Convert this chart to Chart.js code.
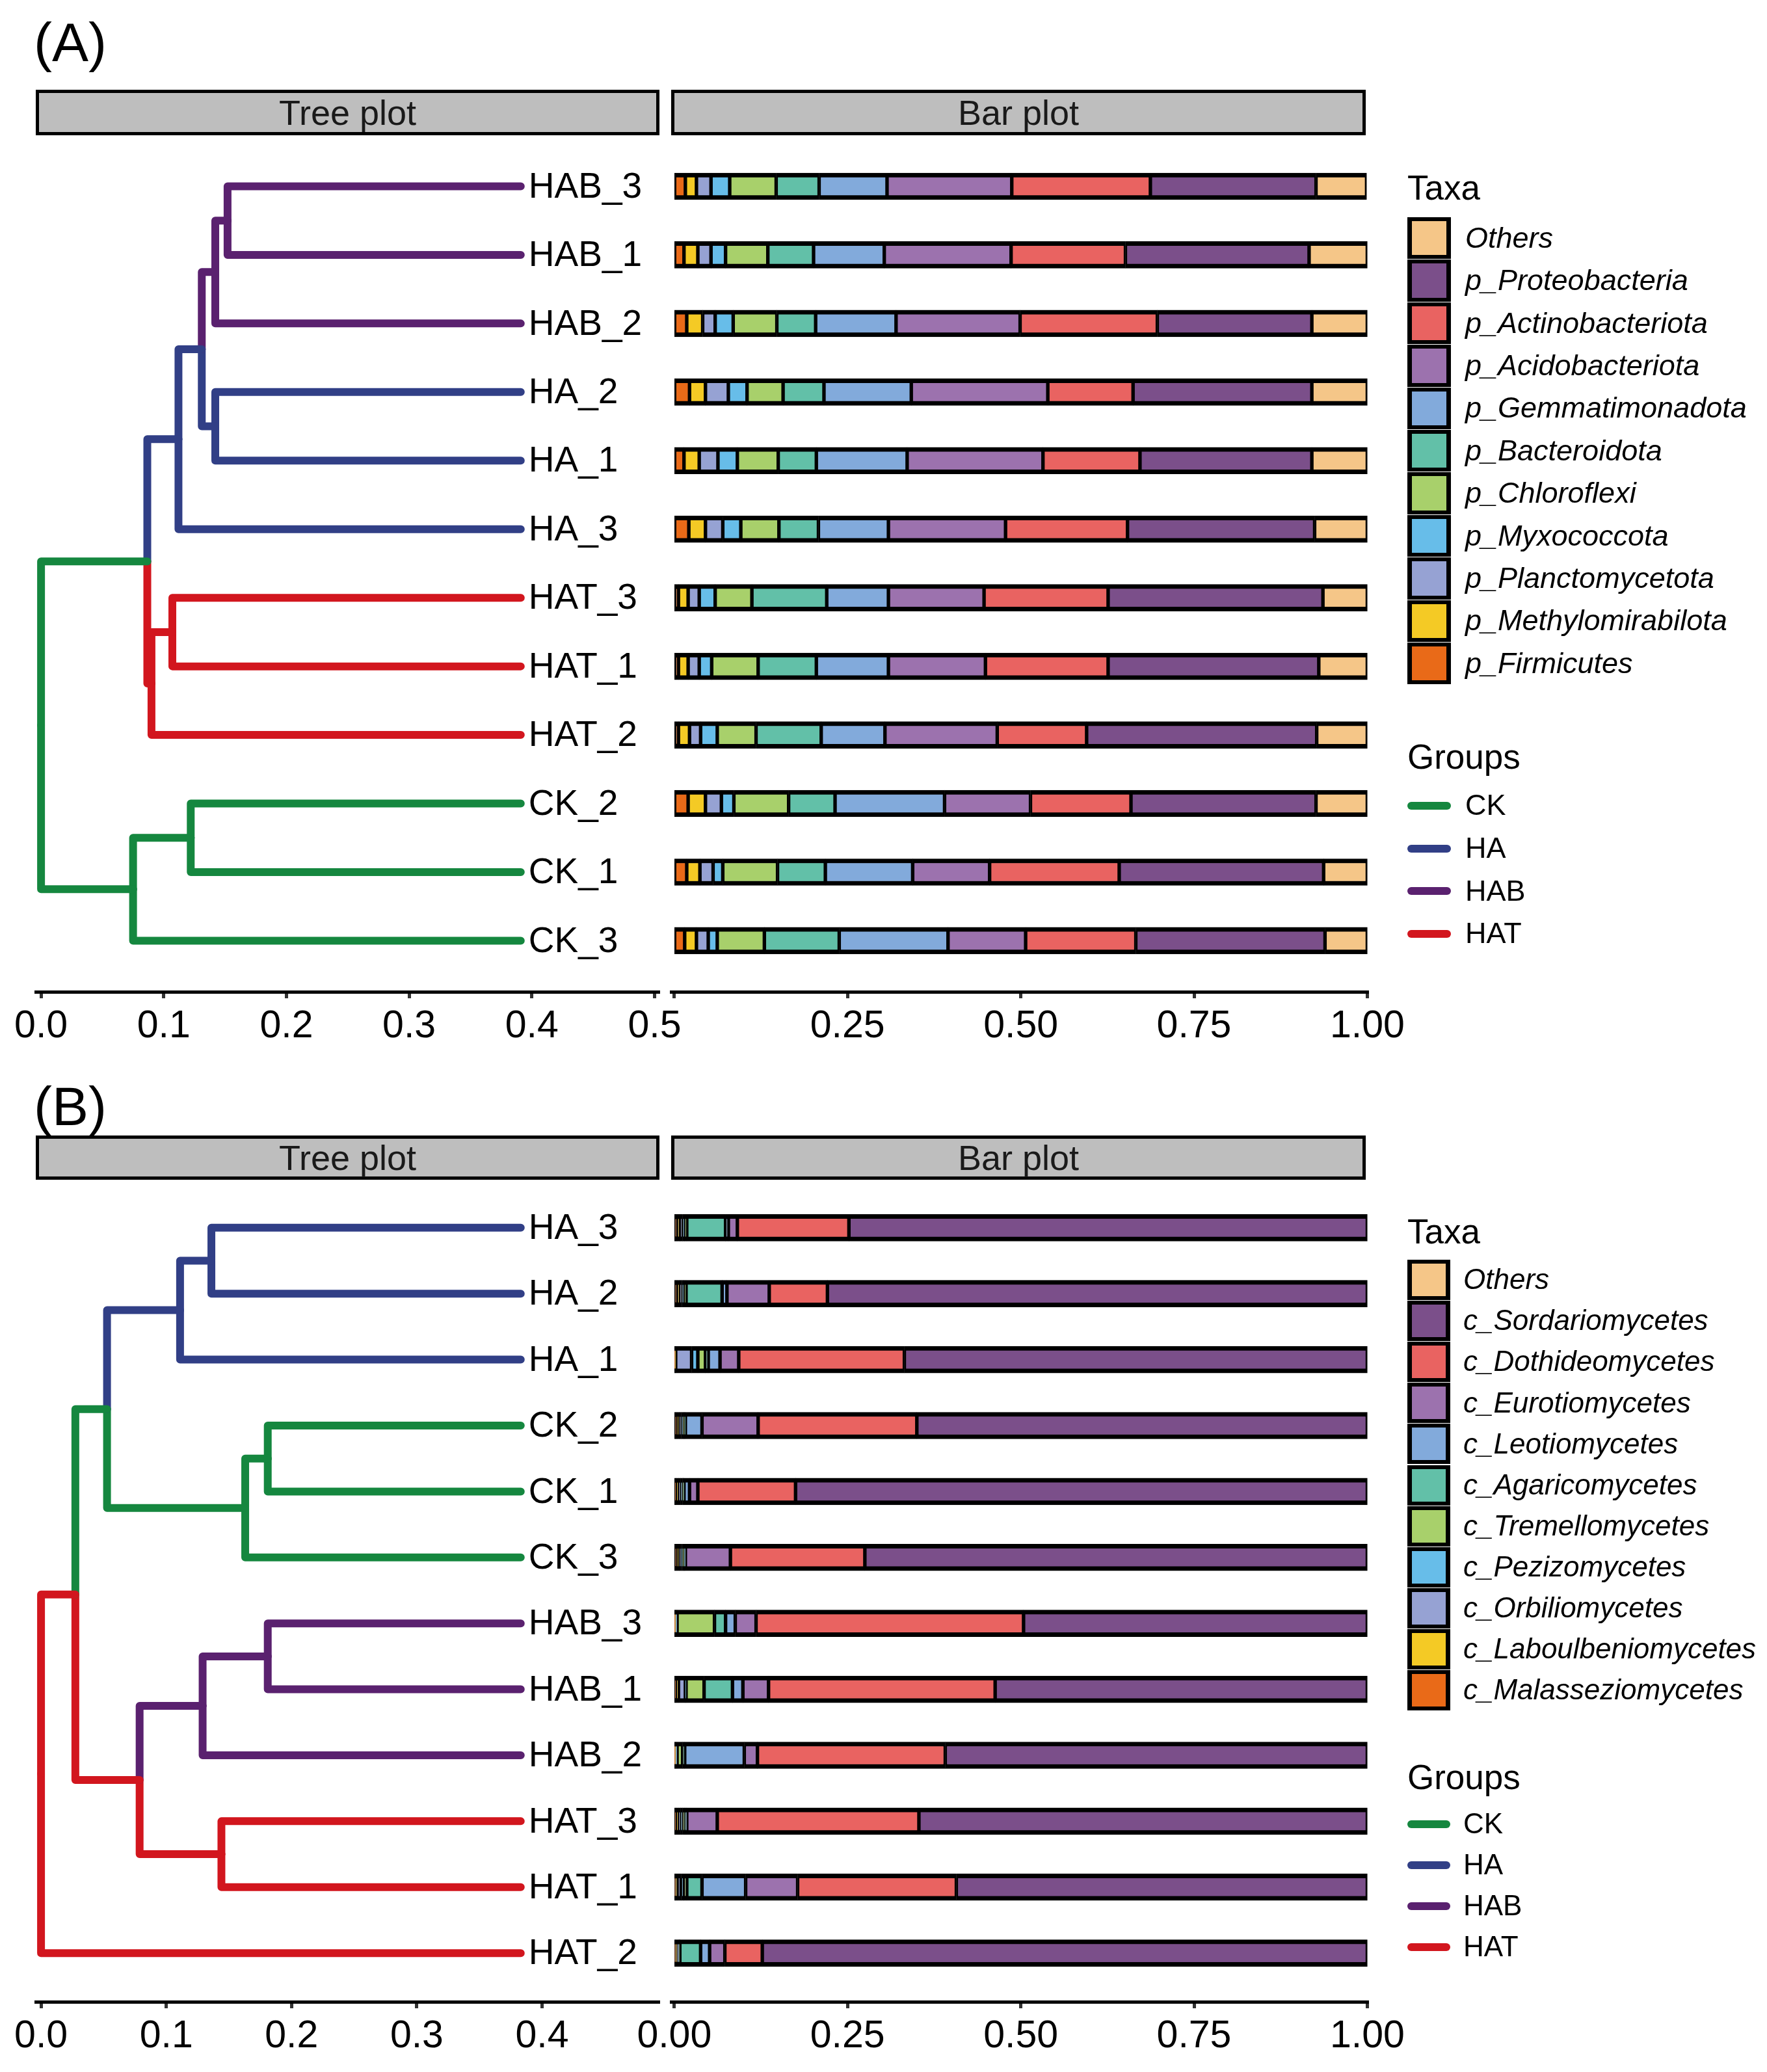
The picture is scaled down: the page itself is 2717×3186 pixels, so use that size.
<!DOCTYPE html>
<html>
<head>
<meta charset="utf-8">
<script src="https://cdn.jsdelivr.net/npm/chart.js@4.4.1/dist/chart.umd.min.js"></script>
<style>
  html, body { margin: 0; padding: 0; background: #fff; }
  body { width: 2717px; height: 3186px; position: relative; overflow: hidden;
         font-family: "Liberation Sans", Arial, sans-serif; color: #000; }
  canvas { position: absolute; }
  .txt { position: absolute; white-space: nowrap; z-index: 5; }
  .strip { position: absolute; box-sizing: border-box; background: #BEBEBE; border: 5px solid #000;
           font-size: 54px; display: flex; align-items: center; justify-content: center; color: #1a1a1a; }
  .key { position: absolute; box-sizing: border-box; border-style: solid; border-color: #000;
         border-width: 6px 7px; z-index: 5; }
  .gline { position: absolute; height: 12px; border-radius: 6px; z-index: 5; }
</style>
</head>
<body>
<div class="strip" style="left:55px; top:138px; width:959px; height:70px;">Tree plot</div>
<div class="strip" style="left:1032px; top:138px; width:1068px; height:70px;">Bar plot</div>
<div class="strip" style="left:55px; top:1746px; width:959px; height:68px;">Tree plot</div>
<div class="strip" style="left:1032px; top:1746px; width:1068px; height:68px;">Bar plot</div>

<canvas id="treeA" width="1070" height="1405" style="left:0px; top:200px; width:1070px; height:1405px;"></canvas>
<canvas id="barA" width="1220" height="1405" style="left:950px; top:200px; width:1220px; height:1405px;"></canvas>
<canvas id="treeB" width="1070" height="1328" style="left:0px; top:1830px; width:1070px; height:1328px;"></canvas>
<canvas id="barB" width="1220" height="1328" style="left:950px; top:1830px; width:1220px; height:1328px;"></canvas>

<script>
// ---- samples (top to bottom) ----
const samplesA = ['HAB_3', 'HAB_1', 'HAB_2', 'HA_2', 'HA_1', 'HA_3', 'HAT_3', 'HAT_1', 'HAT_2', 'CK_2', 'CK_1', 'CK_3'];
const samplesB = ['HA_3', 'HA_2', 'HA_1', 'CK_2', 'CK_1', 'CK_3', 'HAB_3', 'HAB_1', 'HAB_2', 'HAT_3', 'HAT_1', 'HAT_2'];

const groups = ['CK', 'HA', 'HAB', 'HAT'];
const groupColors = ['#15873F', '#313F86', '#5A216F', '#D2161E'];

// ---- taxa, legend order (Others first) ----
const taxaA = ['Others', 'p_Proteobacteria', 'p_Actinobacteriota', 'p_Acidobacteriota', 'p_Gemmatimonadota',
  'p_Bacteroidota', 'p_Chloroflexi', 'p_Myxococcota', 'p_Planctomycetota', 'p_Methylomirabilota', 'p_Firmicutes'];
const taxaB = ['Others', 'c_Sordariomycetes', 'c_Dothideomycetes', 'c_Eurotiomycetes', 'c_Leotiomycetes',
  'c_Agaricomycetes', 'c_Tremellomycetes', 'c_Pezizomycetes', 'c_Orbiliomycetes', 'c_Laboulbeniomycetes', 'c_Malasseziomycetes'];
const taxaColors = ['#F5C688', '#7B4F8A', '#E96361', '#9C72AE', '#82AADB',
  '#62C0A8', '#A8D06B', '#67BDE9', '#96A2D3', '#F4CA25', '#E96A18'];

// ---- relative abundance, panel A (per taxon, samplesA order) ----
const aOthers   = [0.073, 0.084, 0.080, 0.080, 0.080, 0.076, 0.064, 0.070, 0.073, 0.074, 0.063, 0.061];
const aProteo   = [0.239, 0.265, 0.223, 0.258, 0.248, 0.270, 0.310, 0.304, 0.332, 0.267, 0.295, 0.273];
const aActino   = [0.200, 0.165, 0.198, 0.123, 0.140, 0.176, 0.179, 0.177, 0.129, 0.145, 0.187, 0.159];
const aAcido    = [0.180, 0.183, 0.179, 0.197, 0.196, 0.169, 0.138, 0.140, 0.162, 0.124, 0.111, 0.112];
const aGemma    = [0.098, 0.102, 0.116, 0.126, 0.131, 0.101, 0.089, 0.104, 0.092, 0.158, 0.126, 0.157];
const aBactero  = [0.062, 0.066, 0.056, 0.059, 0.055, 0.057, 0.108, 0.084, 0.094, 0.067, 0.069, 0.108];
const aChloro   = [0.067, 0.061, 0.063, 0.052, 0.059, 0.055, 0.053, 0.067, 0.056, 0.079, 0.079, 0.068];
const aMyxo     = [0.027, 0.021, 0.026, 0.027, 0.028, 0.026, 0.023, 0.018, 0.024, 0.018, 0.014, 0.013];
const aPlanct   = [0.021, 0.019, 0.018, 0.033, 0.027, 0.025, 0.016, 0.016, 0.016, 0.023, 0.019, 0.017];
const aMethylo  = [0.016, 0.020, 0.023, 0.023, 0.022, 0.024, 0.014, 0.014, 0.016, 0.025, 0.019, 0.017];
const aFirmi    = [0.016, 0.014, 0.018, 0.022, 0.014, 0.021, 0.006, 0.006, 0.006, 0.020, 0.018, 0.015];
const valuesA = [aOthers, aProteo, aActino, aAcido, aGemma, aBactero, aChloro, aMyxo, aPlanct, aMethylo, aFirmi];

// ---- relative abundance, panel B (per taxon, samplesB order) ----
const bOthers   = [0, 0, 0, 0, 0, 0, 0, 0, 0, 0, 0, 0];
const bSordario = [0.748, 0.779, 0.668, 0.650, 0.825, 0.725, 0.496, 0.537, 0.609, 0.647, 0.593, 0.873];
const bDothideo = [0.161, 0.084, 0.239, 0.229, 0.141, 0.194, 0.386, 0.327, 0.271, 0.291, 0.229, 0.054];
const bEurotio  = [0.013, 0.061, 0.027, 0.081, 0.012, 0.065, 0.030, 0.037, 0.019, 0.044, 0.075, 0.022];
const bLeotio   = [0.004, 0.007, 0.017, 0.024, 0.008, 0.001, 0.014, 0.015, 0.086, 0.001, 0.063, 0.013];
const bAgarico  = [0.056, 0.052, 0.004, 0.001, 0.001, 0.001, 0.016, 0.041, 0.003, 0.002, 0.022, 0.030];
const bTremello = [0.003, 0.003, 0.011, 0.002, 0.001, 0.002, 0.054, 0.026, 0.008, 0.003, 0.004, 0.001];
const bPezizo   = [0.003, 0.003, 0.009, 0.003, 0.003, 0.002, 0.001, 0.001, 0.001, 0.003, 0.004, 0.001];
const bOrbilio  = [0.004, 0.003, 0.023, 0.003, 0.003, 0.003, 0.001, 0.010, 0.001, 0.003, 0.006, 0.002];
const bLaboul   = [0.004, 0.004, 0.001, 0.003, 0.003, 0.003, 0.001, 0.003, 0.001, 0.003, 0.002, 0.002];
const bMalass   = [0.004, 0.004, 0.001, 0.004, 0.003, 0.004, 0.001, 0.003, 0.001, 0.003, 0.002, 0.002];
const valuesB = [bOthers, bSordario, bDothideo, bEurotio, bLeotio, bAgarico, bTremello, bPezizo, bOrbilio, bLaboul, bMalass];

// ---- dendrograms: internal node heights ----
const nodesA = [
  { id: 'root', h: 0.000, kids: ['n8', 'n10'], group: 'CK' },
  { id: 'n8',   h: 0.0866, kids: ['n5', 'n7'], group: 'CK' },
  { id: 'n5',   h: 0.112, kids: ['n4', 'HA_3'], group: 'HA' },
  { id: 'n4',   h: 0.131, kids: ['n2', 'n3'], group: 'HA' },
  { id: 'n2',   h: 0.142, kids: ['n1', 'HAB_2'], group: 'HAB' },
  { id: 'n1',   h: 0.152, kids: ['HAB_3', 'HAB_1'], group: 'HAB' },
  { id: 'n3',   h: 0.142, kids: ['HA_2', 'HA_1'], group: 'HA' },
  { id: 'n7',   h: 0.090, kids: ['n6', 'HAT_2'], group: 'HAT' },
  { id: 'n6',   h: 0.107, kids: ['HAT_3', 'HAT_1'], group: 'HAT' },
  { id: 'n10',  h: 0.075, kids: ['n9', 'CK_3'], group: 'CK' },
  { id: 'n9',   h: 0.122, kids: ['CK_2', 'CK_1'], group: 'CK' }
];
const nodesB = [
  { id: 'root', h: 0.000, kids: ['n10', 'HAT_2'], group: 'HAT' },
  { id: 'n10',  h: 0.0274, kids: ['n5', 'n9'], group: 'HAT' },
  { id: 'n5',   h: 0.0527, kids: ['n2', 'n4'], group: 'CK' },
  { id: 'n2',   h: 0.111, kids: ['n1', 'HA_1'], group: 'HA' },
  { id: 'n1',   h: 0.136, kids: ['HA_3', 'HA_2'], group: 'HA' },
  { id: 'n4',   h: 0.163, kids: ['n3', 'CK_3'], group: 'CK' },
  { id: 'n3',   h: 0.181, kids: ['CK_2', 'CK_1'], group: 'CK' },
  { id: 'n9',   h: 0.0787, kids: ['n7', 'n8'], group: 'HAT' },
  { id: 'n7',   h: 0.129, kids: ['n6', 'HAB_2'], group: 'HAB' },
  { id: 'n6',   h: 0.181, kids: ['HAB_3', 'HAB_1'], group: 'HAB' },
  { id: 'n8',   h: 0.144, kids: ['HAT_3', 'HAT_1'], group: 'HAT' }
];
const tipHeightA = 0.391;
const tipHeightB = 0.383;

const treeTicksA = [0, 0.1, 0.2, 0.3, 0.4, 0.5];
const treeTicksB = [0, 0.1, 0.2, 0.3, 0.4];
const barTicks = [0, 0.25, 0.5, 0.75, 1];

const FONT = 'Liberation Sans';

function xAxis(min, max, ticks, fmt) {
  return {
    type: 'linear', min: min, max: max, offset: false,
    afterBuildTicks: s => { s.ticks = ticks.map(v => ({ value: v })); },
    afterFit: s => { s.height = 80; },
    ticks: { callback: fmt, font: { family: FONT, size: 59 }, color: '#000', padding: 8,
             autoSkip: false, maxRotation: 0, minRotation: 0 },
    grid: { offset: false, drawOnChartArea: false, drawTicks: true, tickLength: 10, tickWidth: 5, tickColor: '#333' },
    border: { display: true, color: '#000', width: 5 }
  };
}

function yAxis(yr) {
  return { type: 'linear', display: false, reverse: true, offset: false, grid: { offset: false },
           min: yr[0], max: yr[1] };
}

function drawTree(canvasId, leaves, nodes, tipX, xr, ticks, yr, pad) {
  const rowOf = {};
  leaves.forEach((name, i) => { rowOf[name] = i + 1; });
  const nodeOf = {};
  nodes.forEach(n => { nodeOf[n.id] = n; });
  const yOf = id => id in rowOf ? rowOf[id] : (yOf(nodeOf[id].kids[0]) + yOf(nodeOf[id].kids[1])) / 2;
  const xOf = id => id in rowOf ? tipX : nodeOf[id].h;
  const groupOf = id => id in rowOf ? id.split('_')[0] : nodeOf[id].group;

  const datasets = [];
  nodes.forEach(n => {
    n.kids.forEach(k => {
      datasets.push({
        data: [{ x: n.h, y: yOf(n.id) }, { x: n.h, y: yOf(k) }, { x: xOf(k), y: yOf(k) }],
        showLine: true,
        borderColor: groupColors[groups.indexOf(groupOf(k))],
        borderWidth: 12,
        borderCapStyle: 'round',
        borderJoinStyle: 'round',
        pointRadius: 0,
        tension: 0,
        fill: false
      });
    });
  });

  const tipLabels = {
    id: 'tipLabels',
    afterDatasetsDraw(chart) {
      const ctx = chart.ctx;
      const xs = chart.scales.x, ys = chart.scales.y;
      ctx.save();
      ctx.font = '55px "' + FONT + '"';
      ctx.fillStyle = '#000';
      ctx.textAlign = 'left';
      ctx.textBaseline = 'middle';
      leaves.forEach((name, i) => {
        ctx.fillText(name, xs.getPixelForValue(tipX) + 12, ys.getPixelForValue(i + 1) + 2);
      });
      ctx.restore();
    }
  };

  new Chart(document.getElementById(canvasId), {
    type: 'scatter',
    data: { datasets: datasets },
    plugins: [tipLabels],
    options: {
      animation: false, responsive: false, devicePixelRatio: 1, events: [],
      layout: { padding: pad },
      plugins: { legend: { display: false }, tooltip: { enabled: false } },
      scales: {
        x: xAxis(xr[0], xr[1], ticks, v => v.toFixed(1)),
        y: yAxis(yr)
      }
    }
  });
}

function drawBars(canvasId, taxa, values, yr, fmt) {
  const datasets = [];
  for (let j = taxa.length - 1; j >= 0; j--) {
    datasets.push({
      label: taxa[j],
      data: values[j].map((v, i) => ({ x: v, y: i + 1 })),
      backgroundColor: taxaColors[j],
      borderColor: '#000',
      borderWidth: { top: 7, bottom: 7, left: 3, right: 3 },
      borderSkipped: false,
      barThickness: 41
    });
  }
  new Chart(document.getElementById(canvasId), {
    type: 'bar',
    data: { datasets: datasets },
    options: {
      indexAxis: 'y',
      animation: false, responsive: false, devicePixelRatio: 1, events: [],
      layout: { padding: { left: 82, right: 66, top: 0, bottom: 0 } },
      plugins: { legend: { display: false }, tooltip: { enabled: false } },
      scales: {
        x: Object.assign(xAxis(-0.0045, 1.0015, barTicks, fmt), { stacked: true }),
        y: Object.assign(yAxis(yr), { stacked: true })
      }
    }
  });
}

const yRangeA = [0.18, 12.745];
const yRangeB = [0.43, 12.738];

drawTree('treeA', samplesA, nodesA, tipHeightA, [-0.0043, 0.504], treeTicksA, yRangeA,
  { left: 55, right: 56, top: 0, bottom: 0 });
drawTree('treeB', samplesB, nodesB, tipHeightB, [-0.0042, 0.4937], treeTicksB, yRangeB,
  { left: 55, right: 56, top: 0, bottom: 0 });
drawBars('barA', taxaA, valuesA, yRangeA, v => v === 0 ? '' : v.toFixed(2));
drawBars('barB', taxaB, valuesB, yRangeB, v => v.toFixed(2));

// ---- text, legends ----
function addText(txt, left, cy, size, italic) {
  const d = document.createElement('div');
  d.className = 'txt';
  d.textContent = txt;
  d.style.left = left + 'px';
  d.style.top = (cy - size * 0.62) + 'px';
  d.style.fontSize = size + 'px';
  d.style.lineHeight = (size * 1.2) + 'px';
  if (italic) d.style.fontStyle = 'italic';
  document.body.appendChild(d);
}

function legend(taxa, cfg) {
  addText('Taxa', cfg.left, cfg.taxaY, 53);
  taxa.forEach((name, i) => {
    const k = document.createElement('div');
    k.className = 'key';
    k.style.left = cfg.left + 'px';
    k.style.top = (cfg.keyTop + i * cfg.pitch) + 'px';
    k.style.width = cfg.keyW + 'px';
    k.style.height = (cfg.pitch - 1) + 'px';
    k.style.background = taxaColors[i];
    document.body.appendChild(k);
    addText(name, cfg.labelLeft, cfg.keyTop + i * cfg.pitch + cfg.pitch / 2, cfg.font, true);
  });
  addText('Groups', cfg.left, cfg.groupsY, 53);
  groups.forEach((g, i) => {
    const cy = cfg.groupTop + i * cfg.groupPitch;
    const l = document.createElement('div');
    l.className = 'gline';
    l.style.left = cfg.left + 'px';
    l.style.top = (cy - 6) + 'px';
    l.style.width = cfg.keyW + 'px';
    l.style.background = groupColors[i];
    document.body.appendChild(l);
    addText(g, cfg.labelLeft, cy, cfg.font);
  });
}

legend(taxaA, { left: 2164, taxaY: 290, keyTop: 334, pitch: 65.4, keyW: 67, labelLeft: 2253,
  font: 45, groupsY: 1165, groupTop: 1239, groupPitch: 65.7 });
legend(taxaB, { left: 2164, taxaY: 1895, keyTop: 1937, pitch: 63.1, keyW: 66, labelLeft: 2250,
  font: 44, groupsY: 2734, groupTop: 2805, groupPitch: 63 });

addText('(A)', 52, 67, 84);
addText('(B)', 52, 1703, 84);
</script>
</body>
</html>
